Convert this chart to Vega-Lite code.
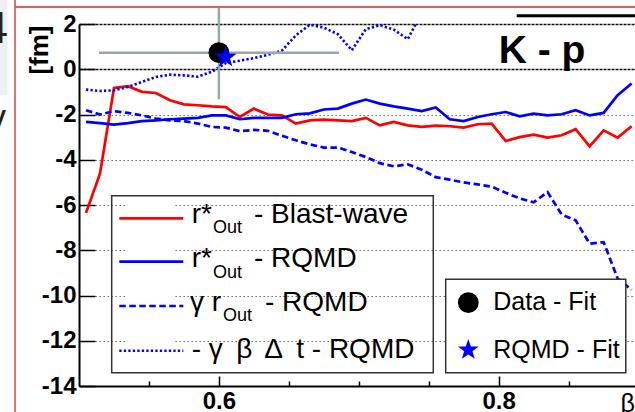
{
  "$schema": "https://vega.github.io/schema/vega-lite/v6.json",
  "width": 556,
  "height": 362,
  "autosize": {"type": "none"},
  "padding": {"left": 79, "top": 24, "right": 0, "bottom": 26},
  "background": "white",
  "config": {"view": {"stroke": null}, "font": "Liberation Sans"},
  "datasets": {
    "curves": [
      {"x": 0.505, "bw": -6.35, "rq": -2.33, "grq": -1.81, "gbt": -0.90},
      {"x": 0.515, "bw": -4.62, "rq": -2.38, "grq": -2.00, "gbt": -0.96},
      {"x": 0.525, "bw": -0.83, "rq": -2.45, "grq": -1.85, "gbt": -0.93},
      {"x": 0.535, "bw": -0.75, "rq": -2.38, "grq": -1.93, "gbt": -0.78},
      {"x": 0.545, "bw": -1.00, "rq": -2.29, "grq": -2.04, "gbt": -0.56},
      {"x": 0.555, "bw": -1.05, "rq": -2.26, "grq": -2.18, "gbt": -0.34},
      {"x": 0.565, "bw": -1.37, "rq": -2.21, "grq": -2.26, "gbt": -0.24},
      {"x": 0.575, "bw": -1.55, "rq": -2.18, "grq": -2.29, "gbt": -0.27},
      {"x": 0.585, "bw": -1.59, "rq": -2.15, "grq": -2.40, "gbt": -0.33},
      {"x": 0.595, "bw": -1.64, "rq": -2.04, "grq": -2.55, "gbt": -0.11},
      {"x": 0.605, "bw": -1.67, "rq": -2.04, "grq": -2.58, "gbt": 0.27},
      {"x": 0.615, "bw": -2.11, "rq": -2.21, "grq": -2.74, "gbt": 0.38},
      {"x": 0.625, "bw": -1.74, "rq": -2.15, "grq": -2.68, "gbt": 0.49},
      {"x": 0.635, "bw": -2.00, "rq": -2.15, "grq": -2.72, "gbt": 0.64},
      {"x": 0.645, "bw": -2.04, "rq": -2.15, "grq": -2.94, "gbt": 0.82},
      {"x": 0.655, "bw": -2.40, "rq": -1.99, "grq": -3.14, "gbt": 1.50},
      {"x": 0.665, "bw": -2.26, "rq": -1.95, "grq": -3.32, "gbt": 1.97},
      {"x": 0.675, "bw": -2.23, "rq": -1.78, "grq": -3.46, "gbt": 1.84},
      {"x": 0.685, "bw": -2.26, "rq": -1.74, "grq": -3.46, "gbt": 1.55},
      {"x": 0.695, "bw": -2.29, "rq": -1.52, "grq": -3.66, "gbt": 0.84},
      {"x": 0.705, "bw": -2.15, "rq": -1.34, "grq": -3.88, "gbt": 1.77},
      {"x": 0.715, "bw": -2.48, "rq": -1.52, "grq": -4.15, "gbt": 1.95},
      {"x": 0.725, "bw": -2.33, "rq": -1.64, "grq": -4.29, "gbt": 1.75},
      {"x": 0.735, "bw": -2.48, "rq": -1.74, "grq": -4.20, "gbt": 1.33},
      {"x": 0.745, "bw": -2.55, "rq": -1.85, "grq": -4.44, "gbt": 2.5},
      {"x": 0.755, "bw": -2.49, "rq": -1.69, "grq": -4.77, "gbt": null},
      {"x": 0.765, "bw": -2.52, "rq": -2.21, "grq": -4.88, "gbt": null},
      {"x": 0.775, "bw": -2.58, "rq": -2.29, "grq": -5.00, "gbt": null},
      {"x": 0.785, "bw": -2.43, "rq": -2.11, "grq": -5.09, "gbt": null},
      {"x": 0.795, "bw": -2.40, "rq": -1.99, "grq": -5.19, "gbt": null},
      {"x": 0.805, "bw": -3.17, "rq": -1.89, "grq": -5.46, "gbt": null},
      {"x": 0.815, "bw": -3.00, "rq": -2.08, "grq": -5.71, "gbt": null},
      {"x": 0.825, "bw": -2.89, "rq": -1.96, "grq": -5.88, "gbt": null},
      {"x": 0.835, "bw": -3.02, "rq": -2.04, "grq": -5.43, "gbt": null},
      {"x": 0.845, "bw": -2.92, "rq": -1.99, "grq": -6.42, "gbt": null},
      {"x": 0.855, "bw": -2.65, "rq": -1.81, "grq": -6.68, "gbt": null},
      {"x": 0.865, "bw": -3.41, "rq": -2.04, "grq": -7.71, "gbt": null},
      {"x": 0.875, "bw": -2.70, "rq": -1.93, "grq": -7.64, "gbt": null},
      {"x": 0.885, "bw": -3.02, "rq": -1.15, "grq": -9.25, "gbt": null},
      {"x": 0.895, "bw": -2.52, "rq": -0.63, "grq": -9.75, "gbt": null}
    ],
    "fits": [
      {"name": "Data - Fit", "x": 0.6, "y": 0.7315, "xlo": 0.5143, "xhi": 0.68585, "ylo": -1.328, "yhi": 2.738},
      {"name": "RQMD - Fit", "x": 0.60486, "y": 0.528, "xlo": null, "xhi": null, "ylo": null, "yhi": null}
    ],
    "one": [{"k": 1}]
  },
  "layer": [
    {
      "data": {"name": "curves"},
      "mark": {"type": "line", "color": "#ff0000", "strokeWidth": 2.7, "clip": true},
      "encoding": {
        "x": {"field": "x", "type": "quantitative",
          "scale": {"domain": [0.5, 0.89743], "nice": false, "zero": false},
          "axis": {
            "values": [0.55, 0.6, 0.65, 0.7, 0.75, 0.8, 0.85],
            "labelExpr": "abs(datum.value-0.6)<1e-6 || abs(datum.value-0.8)<1e-6 ? format(datum.value, '.1f') : ''",
            "tickSize": {"condition": {"test": "abs(datum.value-0.6)<1e-6 || abs(datum.value-0.8)<1e-6", "value": -10}, "value": -5},
            "tickColor": "black", "tickWidth": 1.5,
            "grid": false, "domainColor": "black", "domainWidth": 2,
            "labelFont": "Liberation Sans", "labelFontWeight": "bold", "labelFontSize": 24, "labelColor": "black",
            "labelPadding": 13, "labelOverlap": false, "labelFlush": false, "labelBound": false,
            "title": "β", "titleFont": "Liberation Sans", "titleFontWeight": "normal", "titleFontSize": 25, "titleColor": "black",
            "titleX": 541, "titleY": 25, "titleAlign": "left", "titleBaseline": "alphabetic", "titleAngle": 0
          }
        },
        "y": {"field": "bw", "type": "quantitative",
          "scale": {"domain": [-14, 2], "nice": false, "zero": false},
          "axis": {
            "values": [-14, -13.5, -13, -12.5, -12, -11.5, -11, -10.5, -10, -9.5, -9, -8.5, -8, -7.5, -7, -6.5, -6, -5.5, -5, -4.5, -4, -3.5, -3, -2.5, -2, -1.5, -1, -0.5, 0, 0.5, 1, 1.5, 2],
            "labelExpr": "abs(datum.value % 2) < 1e-6 ? '' + datum.value : ''",
            "tickSize": {"condition": {"test": "abs(datum.value % 2) < 1e-6", "value": -16}, "value": -8},
            "tickColor": "black", "tickWidth": 1.5,
            "grid": true,
            "gridOpacity": {"condition": {"test": "abs(datum.value % 2) < 1e-6", "value": 1}, "value": 0},
            "gridColor": {"condition": {"test": "datum.value > -0.001", "value": "#111111"}, "value": "#555555"},
            "gridDash": {"condition": {"test": "datum.value > -0.001", "value": [3, 1]}, "value": [1.3, 2.7]},
            "gridWidth": {"condition": {"test": "datum.value > -0.001", "value": 1.6}, "value": 1},
            "domainColor": "black", "domainWidth": 2,
            "labelFont": "Liberation Sans", "labelFontWeight": "bold", "labelFontSize": 24, "labelColor": "black",
            "labelPadding": 19, "labelOverlap": false, "labelFlush": false, "labelBound": false,
            "title": "[fm]", "titleFont": "Liberation Sans", "titleFontWeight": "bold", "titleFontSize": 26, "titleColor": "black",
            "titleAngle": -90, "titleAlign": "right", "titleBaseline": "middle", "titleX": -40, "titleY": 1
          }
        }
      }
    },
    {
      "data": {"name": "curves"},
      "mark": {"type": "line", "color": "#0000ff", "strokeWidth": 2.7, "clip": true},
      "encoding": {
        "x": {"field": "x", "type": "quantitative", "scale": {"domain": [0.5, 0.89743], "nice": false, "zero": false}},
        "y": {"field": "rq", "type": "quantitative", "scale": {"domain": [-14, 2], "nice": false, "zero": false}}
      }
    },
    {
      "data": {"name": "curves"},
      "mark": {"type": "line", "color": "#0000ff", "strokeWidth": 2.7, "strokeDash": [6.5, 3.5], "clip": true},
      "encoding": {
        "x": {"field": "x", "type": "quantitative", "scale": {"domain": [0.5, 0.89743], "nice": false, "zero": false}},
        "y": {"field": "grq", "type": "quantitative", "scale": {"domain": [-14, 2], "nice": false, "zero": false}}
      }
    },
    {
      "data": {"name": "curves"},
      "mark": {"type": "line", "color": "#0000ff", "strokeWidth": 2.6, "strokeDash": [2.3, 2.2], "clip": true},
      "encoding": {
        "x": {"field": "x", "type": "quantitative", "scale": {"domain": [0.5, 0.89743], "nice": false, "zero": false}},
        "y": {"field": "gbt", "type": "quantitative", "scale": {"domain": [-14, 2], "nice": false, "zero": false}}
      }
    },
    {
      "data": {"name": "fits"},
      "transform": [{"filter": "datum.name === 'Data - Fit'"}],
      "mark": {"type": "rule", "color": "#94aaa2", "strokeWidth": 2.5, "clip": false},
      "encoding": {
        "x": {"field": "xlo", "type": "quantitative", "scale": {"domain": [0.5, 0.89743], "nice": false, "zero": false}},
        "x2": {"field": "xhi"},
        "y": {"field": "y", "type": "quantitative", "scale": {"domain": [-14, 2], "nice": false, "zero": false}}
      }
    },
    {
      "data": {"name": "fits"},
      "transform": [{"filter": "datum.name === 'Data - Fit'"}],
      "mark": {"type": "rule", "color": "#94aaa2", "strokeWidth": 2.5, "clip": false},
      "encoding": {
        "x": {"field": "x", "type": "quantitative", "scale": {"domain": [0.5, 0.89743], "nice": false, "zero": false}},
        "y": {"field": "ylo", "type": "quantitative", "scale": {"domain": [-14, 2], "nice": false, "zero": false}},
        "y2": {"field": "yhi"}
      }
    },
    {
      "data": {"name": "fits"},
      "transform": [{"filter": "datum.name === 'Data - Fit'"}],
      "mark": {"type": "point", "shape": "circle", "filled": true, "color": "black", "opacity": 1, "size": 430, "clip": false},
      "encoding": {
        "x": {"field": "x", "type": "quantitative", "scale": {"domain": [0.5, 0.89743], "nice": false, "zero": false}},
        "y": {"field": "y", "type": "quantitative", "scale": {"domain": [-14, 2], "nice": false, "zero": false}}
      }
    },
    {
      "data": {"name": "fits"},
      "transform": [{"filter": "datum.name === 'RQMD - Fit'"}],
      "mark": {"type": "point", "shape": "M0,-1L0.235,-0.324L0.951,-0.309L0.38,0.124L0.588,0.809L0,0.4L-0.588,0.809L-0.38,0.124L-0.951,-0.309L-0.235,-0.324Z", "filled": true, "color": "#0000ff", "opacity": 1, "size": 520, "clip": false},
      "encoding": {
        "x": {"field": "x", "type": "quantitative", "scale": {"domain": [0.5, 0.89743], "nice": false, "zero": false}},
        "y": {"field": "y", "type": "quantitative", "scale": {"domain": [-14, 2], "nice": false, "zero": false}}
      }
    },
    {
      "data": {"name": "one"},
      "mark": {"type": "rect", "color": "white", "clip": false},
      "encoding": {
        "x": {"datum": 0.53288, "scale": {"domain": [0.5, 0.89743], "nice": false, "zero": false}},
        "x2": {"datum": 0.56862},
        "y": {"datum": -5.65, "scale": {"domain": [-14, 2], "nice": false, "zero": false}},
        "y2": {"datum": -13.35}
      }
    },
    {
      "data": {"name": "one"},
      "mark": {"type": "rect", "fill": "white", "fillOpacity": 0, "stroke": "#333333", "strokeWidth": 1.5, "clip": false},
      "encoding": {
        "x": {"datum": 0.52337, "scale": {"domain": [0.5, 0.89743], "nice": false, "zero": false}},
        "x2": {"datum": 0.75325},
        "y": {"datum": -5.589, "scale": {"domain": [-14, 2], "nice": false, "zero": false}},
        "y2": {"datum": -13.412}
      }
    },
    {
      "data": {"name": "one"},
      "mark": {"type": "rule", "color": "#ff0000", "strokeWidth": 2.7, "clip": false},
      "encoding": {
        "x": {"datum": 0.52881, "scale": {"domain": [0.5, 0.89743], "nice": false, "zero": false}},
        "x2": {"datum": 0.57455},
        "y": {"datum": -6.588, "scale": {"domain": [-14, 2], "nice": false, "zero": false}}
      }
    },
    {
      "data": {"name": "one"},
      "mark": {"type": "rule", "color": "#0000ff", "strokeWidth": 2.7, "clip": false},
      "encoding": {
        "x": {"datum": 0.52881, "scale": {"domain": [0.5, 0.89743], "nice": false, "zero": false}},
        "x2": {"datum": 0.57455},
        "y": {"datum": -8.506, "scale": {"domain": [-14, 2], "nice": false, "zero": false}}
      }
    },
    {
      "data": {"name": "one"},
      "mark": {"type": "rule", "color": "#0000ff", "strokeWidth": 2.7, "strokeDash": [6.5, 3.5], "clip": false},
      "encoding": {
        "x": {"datum": 0.52881, "scale": {"domain": [0.5, 0.89743], "nice": false, "zero": false}},
        "x2": {"datum": 0.57455},
        "y": {"datum": -10.464, "scale": {"domain": [-14, 2], "nice": false, "zero": false}}
      }
    },
    {
      "data": {"name": "one"},
      "mark": {"type": "rule", "color": "#0000ff", "strokeWidth": 2.6, "strokeDash": [2.3, 2.2], "clip": false},
      "encoding": {
        "x": {"datum": 0.52881, "scale": {"domain": [0.5, 0.89743], "nice": false, "zero": false}},
        "x2": {"datum": 0.57455},
        "y": {"datum": -12.44, "scale": {"domain": [-14, 2], "nice": false, "zero": false}}
      }
    },
    {
      "data": {"name": "one"},
      "mark": {"type": "text", "text": "r*", "font": "Liberation Sans", "fontSize": 28, "align": "left", "baseline": "alphabetic", "color": "black", "clip": false},
      "encoding": {
        "x": {"datum": 0.58056, "scale": {"domain": [0.5, 0.89743], "nice": false, "zero": false}},
        "y": {"datum": -6.809, "scale": {"domain": [-14, 2], "nice": false, "zero": false}}
      }
    },
    {
      "data": {"name": "one"},
      "mark": {"type": "text", "text": "Out", "font": "Liberation Sans", "fontSize": 18, "align": "left", "baseline": "alphabetic", "color": "black", "clip": false},
      "encoding": {
        "x": {"datum": 0.59578, "scale": {"domain": [0.5, 0.89743], "nice": false, "zero": false}},
        "y": {"datum": -7.224, "scale": {"domain": [-14, 2], "nice": false, "zero": false}}
      }
    },
    {
      "data": {"name": "one"},
      "mark": {"type": "text", "text": "- Blast-wave", "font": "Liberation Sans", "fontSize": 28, "align": "left", "baseline": "alphabetic", "color": "black", "clip": false},
      "encoding": {
        "x": {"datum": 0.62509, "scale": {"domain": [0.5, 0.89743], "nice": false, "zero": false}},
        "y": {"datum": -6.809, "scale": {"domain": [-14, 2], "nice": false, "zero": false}}
      }
    },
    {
      "data": {"name": "one"},
      "mark": {"type": "text", "text": "r*", "font": "Liberation Sans", "fontSize": 28, "align": "left", "baseline": "alphabetic", "color": "black", "clip": false},
      "encoding": {
        "x": {"datum": 0.58056, "scale": {"domain": [0.5, 0.89743], "nice": false, "zero": false}},
        "y": {"datum": -8.762, "scale": {"domain": [-14, 2], "nice": false, "zero": false}}
      }
    },
    {
      "data": {"name": "one"},
      "mark": {"type": "text", "text": "Out", "font": "Liberation Sans", "fontSize": 18, "align": "left", "baseline": "alphabetic", "color": "black", "clip": false},
      "encoding": {
        "x": {"datum": 0.59578, "scale": {"domain": [0.5, 0.89743], "nice": false, "zero": false}},
        "y": {"datum": -9.24, "scale": {"domain": [-14, 2], "nice": false, "zero": false}}
      }
    },
    {
      "data": {"name": "one"},
      "mark": {"type": "text", "text": "- RQMD", "font": "Liberation Sans", "fontSize": 28, "align": "left", "baseline": "alphabetic", "color": "black", "clip": false},
      "encoding": {
        "x": {"datum": 0.62509, "scale": {"domain": [0.5, 0.89743], "nice": false, "zero": false}},
        "y": {"datum": -8.762, "scale": {"domain": [-14, 2], "nice": false, "zero": false}}
      }
    },
    {
      "data": {"name": "one"},
      "mark": {"type": "text", "text": "γ r", "font": "Liberation Sans", "fontSize": 28, "align": "left", "baseline": "alphabetic", "color": "black", "clip": false},
      "encoding": {
        "x": {"datum": 0.57934, "scale": {"domain": [0.5, 0.89743], "nice": false, "zero": false}},
        "y": {"datum": -10.685, "scale": {"domain": [-14, 2], "nice": false, "zero": false}}
      }
    },
    {
      "data": {"name": "one"},
      "mark": {"type": "text", "text": "Out", "font": "Liberation Sans", "fontSize": 18, "align": "left", "baseline": "alphabetic", "color": "black", "clip": false},
      "encoding": {
        "x": {"datum": 0.60293, "scale": {"domain": [0.5, 0.89743], "nice": false, "zero": false}},
        "y": {"datum": -11.114, "scale": {"domain": [-14, 2], "nice": false, "zero": false}}
      }
    },
    {
      "data": {"name": "one"},
      "mark": {"type": "text", "text": "- RQMD", "font": "Liberation Sans", "fontSize": 28, "align": "left", "baseline": "alphabetic", "color": "black", "clip": false},
      "encoding": {
        "x": {"datum": 0.63295, "scale": {"domain": [0.5, 0.89743], "nice": false, "zero": false}},
        "y": {"datum": -10.685, "scale": {"domain": [-14, 2], "nice": false, "zero": false}}
      }
    },
    {
      "data": {"name": "one"},
      "mark": {"type": "text", "text": "- γ\u2009 β\u2009 Δ\u2009 t - RQMD", "font": "Liberation Sans", "fontSize": 28, "align": "left", "baseline": "alphabetic", "color": "black", "clip": false},
      "encoding": {
        "x": {"datum": 0.58056, "scale": {"domain": [0.5, 0.89743], "nice": false, "zero": false}},
        "y": {"datum": -12.762, "scale": {"domain": [-14, 2], "nice": false, "zero": false}}
      }
    },
    {
      "data": {"name": "one"},
      "mark": {"type": "rect", "fill": "white", "stroke": "#333333", "strokeWidth": 1.5, "clip": false},
      "encoding": {
        "x": {"datum": 0.76212, "scale": {"domain": [0.5, 0.89743], "nice": false, "zero": false}},
        "x2": {"datum": 0.89085},
        "y": {"datum": -9.284, "scale": {"domain": [-14, 2], "nice": false, "zero": false}},
        "y2": {"datum": -13.412}
      }
    },
    {
      "data": {"name": "one"},
      "mark": {"type": "point", "shape": "circle", "filled": true, "color": "black", "opacity": 1, "size": 430, "clip": false},
      "encoding": {
        "x": {"datum": 0.77827, "scale": {"domain": [0.5, 0.89743], "nice": false, "zero": false}},
        "y": {"datum": -10.318, "scale": {"domain": [-14, 2], "nice": false, "zero": false}}
      }
    },
    {
      "data": {"name": "one"},
      "mark": {"type": "point", "shape": "M0,-1L0.235,-0.324L0.951,-0.309L0.38,0.124L0.588,0.809L0,0.4L-0.588,0.809L-0.38,0.124L-0.951,-0.309L-0.235,-0.324Z", "filled": true, "color": "#0000ff", "opacity": 1, "size": 480, "clip": false},
      "encoding": {
        "x": {"datum": 0.77827, "scale": {"domain": [0.5, 0.89743], "nice": false, "zero": false}},
        "y": {"datum": -12.409, "scale": {"domain": [-14, 2], "nice": false, "zero": false}}
      }
    },
    {
      "data": {"name": "one"},
      "mark": {"type": "text", "text": "Data - Fit", "font": "Liberation Sans", "fontSize": 25, "align": "left", "baseline": "alphabetic", "color": "black", "clip": false},
      "encoding": {
        "x": {"datum": 0.79614, "scale": {"domain": [0.5, 0.89743], "nice": false, "zero": false}},
        "y": {"datum": -10.641, "scale": {"domain": [-14, 2], "nice": false, "zero": false}}
      }
    },
    {
      "data": {"name": "one"},
      "mark": {"type": "text", "text": "RQMD - Fit", "font": "Liberation Sans", "fontSize": 25, "align": "left", "baseline": "alphabetic", "color": "black", "clip": false},
      "encoding": {
        "x": {"datum": 0.79614, "scale": {"domain": [0.5, 0.89743], "nice": false, "zero": false}},
        "y": {"datum": -12.749, "scale": {"domain": [-14, 2], "nice": false, "zero": false}}
      }
    },
    {
      "data": {"name": "one"},
      "mark": {"type": "text", "text": "K - p", "font": "Liberation Sans", "fontSize": 39, "fontWeight": "bold", "align": "center", "baseline": "alphabetic", "color": "black", "clip": false},
      "encoding": {
        "x": {"datum": 0.83095, "scale": {"domain": [0.5, 0.89743], "nice": false, "zero": false}},
        "y": {"datum": 0.2895, "scale": {"domain": [-14, 2], "nice": false, "zero": false}}
      }
    },
    {
      "data": {"name": "one"},
      "mark": {"type": "rect", "color": "#eeeef8", "clip": false},
      "encoding": {
        "x": {"datum": 0.4436, "scale": {"domain": [0.5, 0.89743], "nice": false, "zero": false}},
        "x2": {"datum": 0.44889},
        "y": {"datum": 3.1, "scale": {"domain": [-14, 2], "nice": false, "zero": false}},
        "y2": {"datum": -1.138}
      }
    },
    {
      "data": {"name": "one"},
      "mark": {"type": "text", "text": "4", "font": "Liberation Sans", "fontSize": 45, "align": "right", "baseline": "alphabetic", "color": "#222222", "clip": false},
      "encoding": {
        "x": {"datum": 0.44925, "scale": {"domain": [0.5, 0.89743], "nice": false, "zero": false}},
        "y": {"datum": 1.16, "scale": {"domain": [-14, 2], "nice": false, "zero": false}}
      }
    },
    {
      "data": {"name": "one"},
      "mark": {"type": "text", "text": "y", "font": "Liberation Sans", "fontSize": 36, "align": "right", "baseline": "alphabetic", "color": "#222222", "clip": false},
      "encoding": {
        "x": {"datum": 0.44782, "scale": {"domain": [0.5, 0.89743], "nice": false, "zero": false}},
        "y": {"datum": -2.685, "scale": {"domain": [-14, 2], "nice": false, "zero": false}}
      }
    },
    {
      "data": {"name": "one"},
      "mark": {"type": "rule", "color": "#d04848", "strokeWidth": 1.5, "clip": false},
      "encoding": {
        "x": {"datum": 0.45425, "scale": {"domain": [0.5, 0.89743], "nice": false, "zero": false}},
        "y": {"datum": 3.1, "scale": {"domain": [-14, 2], "nice": false, "zero": false}},
        "y2": {"datum": -15.2}
      }
    },
    {
      "data": {"name": "one"},
      "mark": {"type": "rule", "color": "#e06060", "strokeWidth": 2, "clip": false},
      "encoding": {
        "x": {"datum": 0.45425, "scale": {"domain": [0.5, 0.89743], "nice": false, "zero": false}},
        "x2": {"datum": 0.92},
        "y": {"datum": 2.751, "scale": {"domain": [-14, 2], "nice": false, "zero": false}}
      }
    },
    {
      "data": {"name": "one"},
      "mark": {"type": "rule", "color": "black", "strokeWidth": 3, "clip": false},
      "encoding": {
        "x": {"datum": 0.81287, "scale": {"domain": [0.5, 0.89743], "nice": false, "zero": false}},
        "x2": {"datum": 0.92},
        "y": {"datum": 2.367, "scale": {"domain": [-14, 2], "nice": false, "zero": false}}
      }
    }
  ]
}
